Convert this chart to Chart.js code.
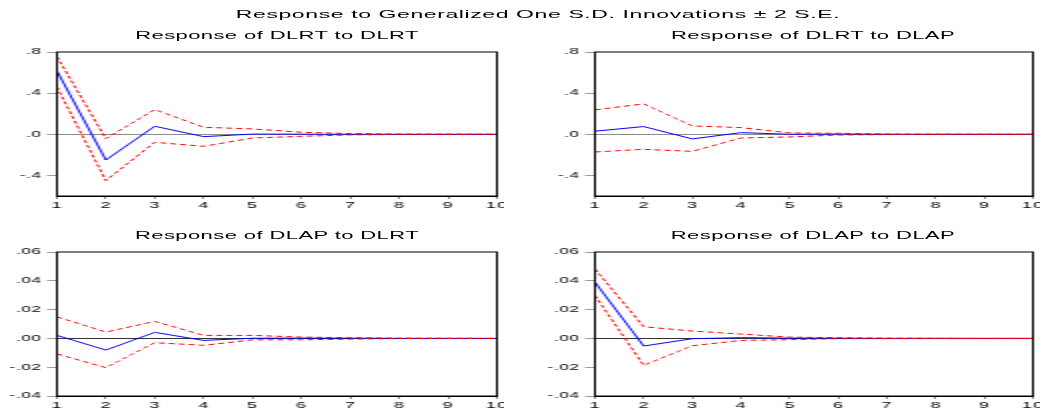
<!DOCTYPE html>
<html>
<head>
<meta charset="utf-8">
<script src="https://cdn.jsdelivr.net/npm/chart.js@4"></script>
<style>
    html, body { margin: 0; padding: 0; background: #fff; overflow: hidden; }
    #wrap {
        position: absolute; left: 0; top: 0;
        width: 522.5px; height: 410px;
        transform: scaleX(2); transform-origin: 0 0;
        font-family: "Liberation Sans", Arial, sans-serif;
        color: #000;
    }
    #wrap canvas { position: absolute; }
    .ttl {
        position: absolute; white-space: nowrap;
        transform: translate(-50%, -50%);
        font-size: 11px; letter-spacing: 0.2px; line-height: 1;
    }
</style>
</head>
<body>
<div id="wrap">
    <div class="ttl" style="left:269px; top:15px; font-size:11.5px; letter-spacing:0.3px;">Response to Generalized One S.D. Innovations ± 2 S.E.</div>
    <div class="ttl" style="left:138.5px; top:35px;">Response of DLRT to DLRT</div>
    <div class="ttl" style="left:406.5px; top:35px;">Response of DLRT to DLAP</div>
    <div class="ttl" style="left:138.5px; top:234.5px;">Response of DLAP to DLRT</div>
    <div class="ttl" style="left:406.5px; top:234.5px;">Response of DLAP to DLAP</div>

    <canvas id="c11" width="252" height="172" style="left:0px; top:46px;"></canvas>
    <canvas id="c12" width="251" height="172" style="left:268.5px; top:46px;"></canvas>
    <canvas id="c21" width="252" height="172" style="left:0px; top:246px;"></canvas>
    <canvas id="c22" width="251" height="172" style="left:268.5px; top:246px;"></canvas>
</div>

<script>
    // periods
    var periods = ['1', '2', '3', '4', '5', '6', '7', '8', '9', '10'];

    // Response of DLRT to DLRT
    var resp11 = [0.615, -0.25, 0.078, -0.023, 0.002, 0.001, 0.0, 0.0, 0.0, 0.0];
    var up11 = [0.755, -0.042, 0.24, 0.068, 0.052, 0.02, 0.007, 0.002, 0.001, 0.0];
    var lo11 = [0.46, -0.45, -0.078, -0.117, -0.036, -0.02, -0.006, -0.002, -0.001, 0.0];

    // Response of DLRT to DLAP
    var resp12 = [0.03, 0.075, -0.045, 0.016, 0.0, 0.002, 0.0, 0.0, 0.0, 0.0];
    var up12 = [0.237, 0.296, 0.081, 0.065, 0.013, 0.01, 0.003, 0.001, 0.0, 0.0];
    var lo12 = [-0.172, -0.146, -0.166, -0.036, -0.026, -0.007, -0.003, -0.001, 0.0, 0.0];

    // Response of DLAP to DLRT
    var resp21 = [0.0021, -0.0081, 0.0042, -0.0014, 0.0001, 0.0002, 0.0001, 0.0, 0.0, 0.0];
    var up21 = [0.015, 0.0044, 0.0118, 0.0021, 0.0021, 0.0009, 0.0005, 0.0002, 0.0001, 0.0];
    var lo21 = [-0.0108, -0.0203, -0.003, -0.0048, -0.001, -0.001, -0.0005, -0.0001, 0.0, 0.0];

    // Response of DLAP to DLAP
    var resp22 = [0.039, -0.0053, -0.0002, 0.0005, 0.0002, 0.0001, 0.0, 0.0, 0.0, 0.0];
    var up22 = [0.0482, 0.0081, 0.0051, 0.003, 0.0009, 0.0005, 0.0002, 0.0001, 0.0, 0.0];
    var lo22 = [0.0298, -0.0187, -0.0051, -0.0014, -0.0009, -0.0002, -0.0001, 0.0, 0.0, 0.0];

    // y axis ticks
    var ticksDLRT = [-0.4, 0.0, 0.4, 0.8];
    var ticksDLAP = [-0.04, -0.02, 0.0, 0.02, 0.04, 0.06];

    // strip the leading zero like eviews does (.8, -.4, .00)
    function fmt(v, digits) {
        var s = Number(v).toFixed(digits);
        return s.replace(/^(-?)0\./, '$1.');
    }

    var framePlugin = {
        id: 'frame',
        beforeDraw: function (chart) {
            chart.ctx.letterSpacing = '0.4px';
        },
        afterDraw: function (chart) {
            var a = chart.chartArea;
            var ctx = chart.ctx;
            ctx.save();
            ctx.strokeStyle = '#000';
            ctx.lineWidth = 1;
            ctx.strokeRect(a.left, a.top, a.right - a.left, a.bottom - a.top);
            ctx.restore();
        }
    };

    function makePanel(id, upper, resp, lower, yMin, yMax, yTicks, digits, zeroColor, rightPad) {
        var ctx = document.getElementById(id).getContext('2d');

        return new Chart(ctx, {
            type: 'line',
            data: {
                labels: periods,
                datasets: [
                    { data: upper, borderColor: '#ff0000', borderWidth: 1, borderDash: [3, 2] },
                    { data: lower, borderColor: '#ff0000', borderWidth: 1, borderDash: [3, 2] },
                    { data: resp, borderColor: '#0000ff', borderWidth: 1 }
                ]
            },
            options: {
                responsive: false,
                animation: false,
                devicePixelRatio: 1,
                layout: { padding: { top: 6, right: rightPad, left: 0, bottom: 0 } },
                elements: {
                    point: { radius: 0, hoverRadius: 0 },
                    line: { tension: 0, fill: false }
                },
                plugins: {
                    legend: { display: false },
                    tooltip: { enabled: false }
                },
                scales: {
                    x: {
                        offset: false,
                        grid: { drawOnChartArea: false, tickLength: 3, tickColor: '#8a8a8a' },
                        border: { color: '#000', width: 1 },
                        ticks: {
                            color: '#000', padding: 1, maxRotation: 0, autoSkip: false,
                            font: { family: 'Liberation Sans', size: 9 }
                        },
                        afterFit: function (scale) {
                            scale.height = 22;
                            scale.paddingLeft = 0;
                            scale.paddingRight = 0;
                        }
                    },
                    y: {
                        min: yMin,
                        max: yMax,
                        afterBuildTicks: function (scale) {
                            scale.ticks = yTicks.map(function (v) { return { value: v }; });
                        },
                        grid: {
                            tickLength: 5,
                            tickColor: '#9a9a9a',
                            color: function (c) {
                                return (c.tick && c.tick.value === 0) ? zeroColor : 'rgba(0,0,0,0)';
                            }
                        },
                        border: { color: '#000', width: 1 },
                        ticks: {
                            color: '#000', padding: 2.5,
                            font: { family: 'Liberation Sans', size: 8.5 },
                            callback: function (v) { return fmt(v, digits); }
                        },
                        afterFit: function (scale) {
                            scale.width = 28.5;
                            scale.paddingTop = 0;
                            scale.paddingBottom = 0;
                        }
                    }
                }
            },
            plugins: [framePlugin]
        });
    }

    makePanel('c11', up11, resp11, lo11, -0.6, 0.8, ticksDLRT, 1, '#8c8c8c', 3.5);
    makePanel('c12', up12, resp12, lo12, -0.6, 0.8, ticksDLRT, 1, '#8c8c8c', 3.5);
    makePanel('c21', up21, resp21, lo21, -0.04, 0.06, ticksDLAP, 2, '#333333', 3.5);
    makePanel('c22', up22, resp22, lo22, -0.04, 0.06, ticksDLAP, 2, '#333333', 3.5);
</script>
</body>
</html>
